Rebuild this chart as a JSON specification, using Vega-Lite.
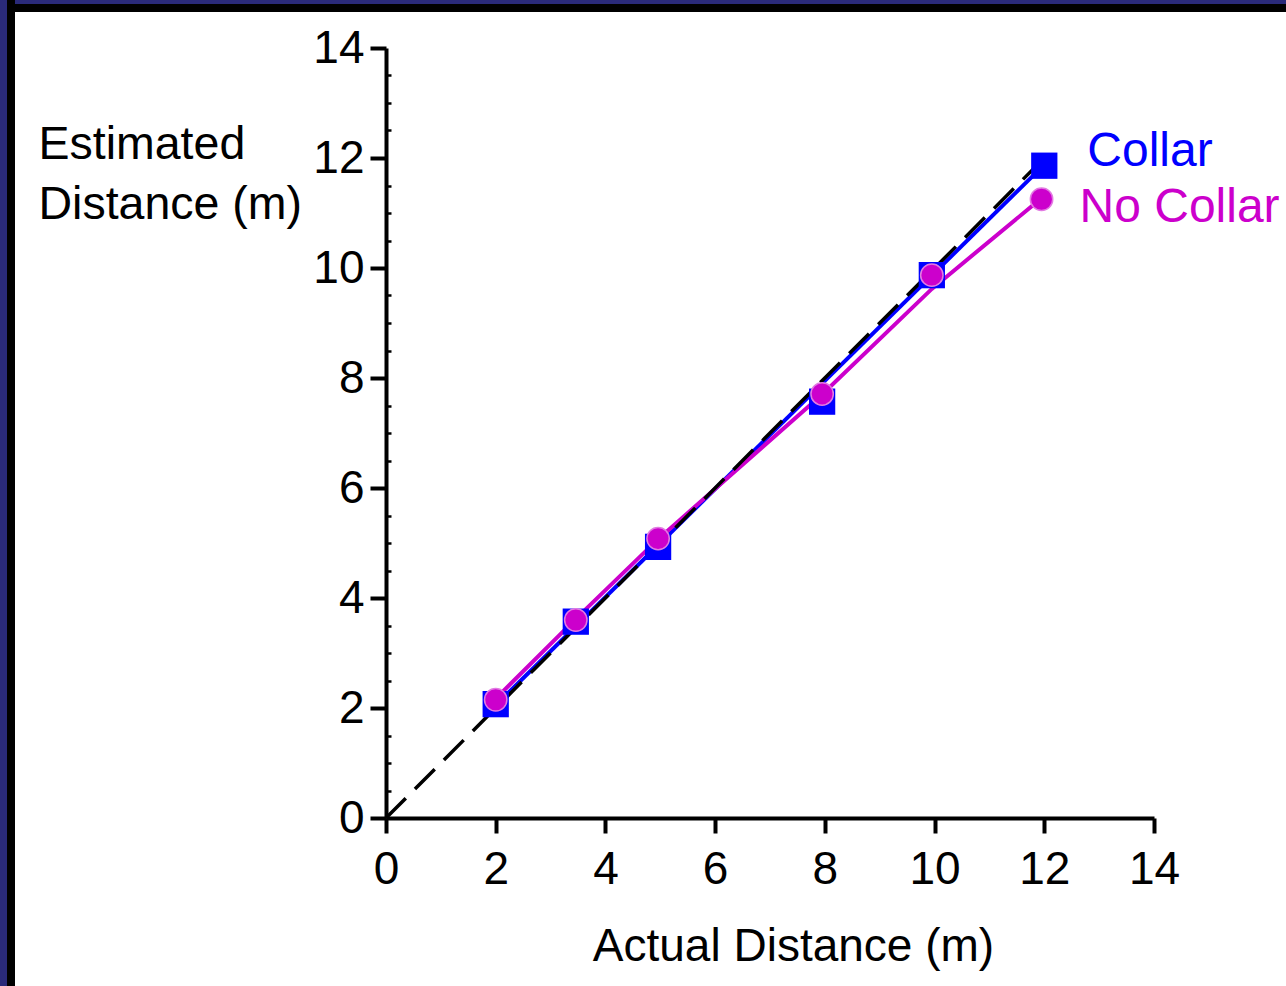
{
  "$schema": "https://vega.github.io/schema/vega-lite/v6.json",
  "padding": 0,
  "background": "white",
  "spacing": 0,
  "bounds": "flush",
  "config": {"view": {"stroke": null}, "font": "Liberation Sans"},
  "datasets": {
    "points": [
      {"series": "Collar", "actual": 2, "estimated": 2.07},
      {"series": "Collar", "actual": 3.46, "estimated": 3.57},
      {"series": "Collar", "actual": 4.96, "estimated": 4.93},
      {"series": "Collar", "actual": 7.95, "estimated": 7.57},
      {"series": "Collar", "actual": 9.95, "estimated": 9.87},
      {"series": "Collar", "actual": 12, "estimated": 11.86},
      {"series": "No Collar", "actual": 2, "estimated": 2.15},
      {"series": "No Collar", "actual": 3.46, "estimated": 3.6},
      {"series": "No Collar", "actual": 4.96, "estimated": 5.08},
      {"series": "No Collar", "actual": 7.95, "estimated": 7.71},
      {"series": "No Collar", "actual": 9.95, "estimated": 9.87},
      {"series": "No Collar", "actual": 11.95, "estimated": 11.25}
    ],
    "fits": [
      {"series": "Collar", "actual": 2, "estimated": 2.05},
      {"series": "Collar", "actual": 12, "estimated": 11.88},
      {"series": "No Collar", "actual": 2, "estimated": 2.17},
      {"series": "No Collar", "actual": 3.46, "estimated": 3.62},
      {"series": "No Collar", "actual": 4.96, "estimated": 5.07},
      {"series": "No Collar", "actual": 7.95, "estimated": 7.7},
      {"series": "No Collar", "actual": 9.95, "estimated": 9.62},
      {"series": "No Collar", "actual": 11.95, "estimated": 11.27}
    ],
    "identity": [
      {"actual": 0, "estimated": 0},
      {"actual": 12, "estimated": 12}
    ],
    "blank": [{}]
  },
  "hconcat": [
    {"width": 7, "height": 986, "data": {"name": "blank"}, "view": {"fill": "#2a2a7a", "stroke": null}, "mark": {"type": "rect", "color": "#2a2a7a"}},
    {"width": 8, "height": 986, "data": {"name": "blank"}, "view": {"fill": "black", "stroke": null}, "mark": {"type": "rect", "color": "black"}},
    {
      "spacing": 0,
      "bounds": "flush",
      "vconcat": [
        {"width": 1271, "height": 4, "data": {"name": "blank"}, "view": {"fill": "#2a2a7a", "stroke": null}, "mark": {"type": "rect", "color": "#2a2a7a"}},
        {"width": 1271, "height": 8, "data": {"name": "blank"}, "view": {"fill": "black", "stroke": null}, "mark": {"type": "rect", "color": "black"}},
        {"width": 1271, "height": 36, "data": {"name": "blank"}, "view": {"stroke": null}, "mark": {"type": "rect", "opacity": 0}},
        {
          "spacing": 0,
          "bounds": "flush",
          "hconcat": [
            {"width": 371, "height": 770, "data": {"name": "blank"}, "view": {"stroke": null}, "mark": {"type": "rect", "opacity": 0}},
            {
              "width": 768,
              "height": 770,
              "view": {"stroke": null},
              "resolve": {"axis": {"y": "independent"}},
              "encoding": {
                "x": {
                  "field": "actual", "type": "quantitative",
                  "scale": {"domain": [0, 14], "nice": false},
                  "axis": {
                    "values": [0, 2, 4, 6, 8, 10, 12, 14],
                    "grid": false,
                    "domainColor": "black", "domainWidth": 4,
                    "tickColor": "black", "tickWidth": 4, "tickSize": 15,
                    "labelFontSize": 46, "labelColor": "black", "labelPadding": 14,
                    "labelFlush": false, "labelOverlap": false,
                    "title": "Actual Distance (m)",
                    "titleFontSize": 46, "titleFontWeight": "normal", "titleColor": "black",
                    "titleAlign": "center", "titleBaseline": "alphabetic",
                    "titleX": 407, "titleY": 142
                  }
                },
                "y": {
                  "field": "estimated", "type": "quantitative",
                  "scale": {"domain": [0, 14], "nice": false},
                  "axis": null
                },
                "color": {
                  "field": "series", "type": "nominal",
                  "scale": {"domain": ["Collar", "No Collar"], "range": ["#0000ff", "#cc00cc"]},
                  "legend": null
                }
              },
              "layer": [
                {
                  "data": {"name": "fits"},
                  "mark": {"type": "line", "strokeWidth": 4},
                  "encoding": {
                    "y": {
                      "field": "estimated", "type": "quantitative",
                      "scale": {"domain": [0, 14], "nice": false},
                      "axis": {
                        "orient": "left",
                        "values": [0.5, 1, 1.5, 2.5, 3, 3.5, 4.5, 5, 5.5, 6.5, 7, 7.5, 8.5, 9, 9.5, 10.5, 11, 11.5, 12.5, 13, 13.5],
                        "grid": false, "domain": false, "labels": false, "title": null,
                        "tickColor": "black", "tickWidth": 2.5, "tickSize": -5
                      }
                    }
                  }
                },
                {
                  "data": {"name": "identity"},
                  "mark": {"type": "line", "color": "black", "strokeWidth": 3.5, "strokeDash": [28, 13]},
                  "encoding": {
                    "color": {"value": "black"},
                    "y": {
                      "field": "estimated", "type": "quantitative",
                      "scale": {"domain": [0, 14], "nice": false},
                      "axis": {
                        "orient": "left",
                        "values": [0, 2, 4, 6, 8, 10, 12, 14],
                        "grid": false,
                        "domainColor": "black", "domainWidth": 4,
                        "tickColor": "black", "tickWidth": 4, "tickSize": 16,
                        "labelFontSize": 46, "labelColor": "black", "labelPadding": 6,
                        "labelFlush": false, "labelOverlap": false,
                        "title": ["Estimated", "Distance (m)"],
                        "titleAngle": 0, "titleAlign": "left", "titleBaseline": "alphabetic",
                        "titleX": -348, "titleY": 110, "titleLineHeight": 60,
                        "titleFontSize": 46.5, "titleFontWeight": "normal", "titleColor": "black"
                      }
                    }
                  }
                },
                {
                  "data": {"name": "points"},
                  "transform": [{"filter": "datum.series === 'Collar'"}],
                  "mark": {"type": "square", "size": 690, "opacity": 1}
                },
                {
                  "data": {"name": "points"},
                  "transform": [{"filter": "datum.series === 'No Collar'"}],
                  "mark": {"type": "circle", "size": 500, "opacity": 1, "stroke": "#e27ae2", "strokeWidth": 1.5}
                },
                {
                  "data": {"name": "points"},
                  "transform": [{"filter": "datum.series === 'Collar' && datum.actual >= 11.9"}],
                  "mark": {"type": "text", "align": "left", "baseline": "alphabetic", "dx": 43, "dy": 0, "fontSize": 48},
                  "encoding": {"text": {"field": "series"}}
                },
                {
                  "data": {"name": "points"},
                  "transform": [{"filter": "datum.series === 'No Collar' && datum.actual >= 11.9"}],
                  "mark": {"type": "text", "align": "left", "baseline": "alphabetic", "dx": 38, "dy": 23, "fontSize": 48},
                  "encoding": {"text": {"field": "series"}}
                }
              ]
            }
          ]
        }
      ]
    }
  ]
}
